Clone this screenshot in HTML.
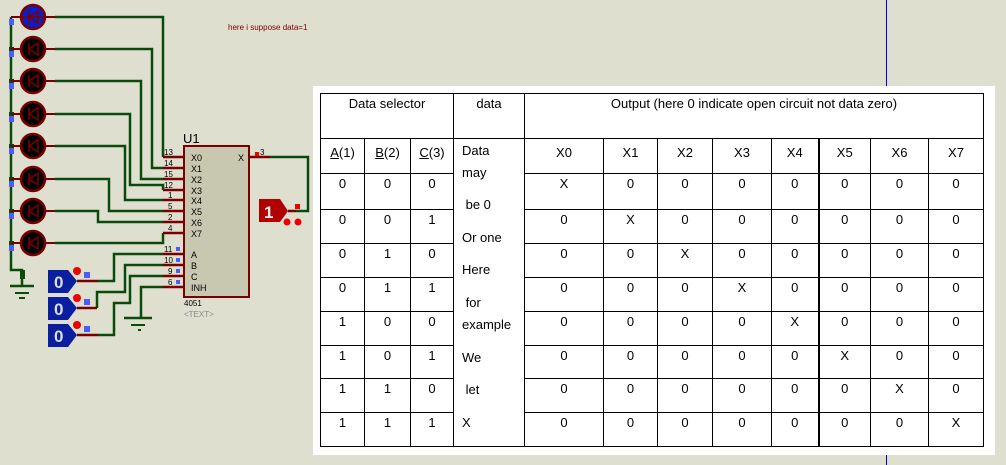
<!DOCTYPE html>
<html><head><meta charset="utf-8"><style>
body{margin:0;width:1006px;height:465px;background:#dfdfd0;overflow:hidden;position:relative;font-family:"Liberation Sans",sans-serif}
svg{position:absolute;left:0;top:0}
#tb{position:absolute;left:313px;top:86px;width:682px;height:369px;background:#fff}
table{position:absolute;left:7px;top:7px;border-collapse:collapse;table-layout:fixed;font-family:"Liberation Sans",sans-serif;font-size:13px;color:#000}
td{border:1px solid #000;padding:3px 0 0 0;text-align:center;vertical-align:top;line-height:14px;overflow:hidden}
.dt{position:absolute;left:462px;font-family:"Liberation Sans",sans-serif;font-size:13px;line-height:14px;color:#000}
</style></head><body>
<svg width="1006" height="465" viewBox="0 0 1006 465">
<line x1="886.5" y1="0" x2="886.5" y2="465" stroke="#0000cc" stroke-width="1"/>
<g fill="none" stroke="#0a4a0a" stroke-width="2.5">
<polyline points="11,17 11,270 22,270 22,286"/>
<polyline points="55,17 163,17 163,157"/>
<polyline points="55,49 152,49 152,168 163,168"/>
<polyline points="55,81 141,81 141,179 163,179"/>
<polyline points="55,114 130,114 130,185 163,185 163,190"/>
<polyline points="55,146 125,146 125,200 163,200"/>
<polyline points="55,179 109,179 109,211 163,211"/>
<polyline points="55,211 98,211 98,222 163,222"/>
<polyline points="55,243 163,243 163,233"/>
<polyline points="98,281 114,281 114,254 163,254"/>
<polyline points="97,308 97,292 125,292 125,265 163,265"/>
<polyline points="98,335 114,335 114,303 130,303 130,276 163,276"/>
<polyline points="163,287 141,287 141,318"/>
<polyline points="270,157 308,157 308,211 296,211"/>
<line x1="10" y1="286" x2="34" y2="286"/><line x1="124" y1="318" x2="152" y2="318"/>
</g>
<g stroke="#0a4a0a" stroke-width="2"><line x1="15" y1="293" x2="29" y2="293"/><line x1="19" y1="298" x2="25" y2="298"/><line x1="131" y1="325" x2="145" y2="325"/><line x1="138" y1="330" x2="141" y2="330"/></g>
<rect x="20" y="270" width="5" height="9" fill="#0a4a0a"/>
<g stroke="#7a0000" stroke-width="2.5">
<line x1="77" y1="281" x2="98" y2="281"/><line x1="77" y1="308" x2="97" y2="308"/><line x1="77" y1="335" x2="98" y2="335"/>
<line x1="163" y1="157" x2="184" y2="157"/><line x1="163" y1="168" x2="184" y2="168"/><line x1="163" y1="179" x2="184" y2="179"/><line x1="163" y1="190" x2="184" y2="190"/><line x1="163" y1="200" x2="184" y2="200"/><line x1="163" y1="211" x2="184" y2="211"/><line x1="163" y1="222" x2="184" y2="222"/><line x1="163" y1="233" x2="184" y2="233"/><line x1="163" y1="254" x2="184" y2="254"/><line x1="163" y1="265" x2="184" y2="265"/><line x1="163" y1="276" x2="184" y2="276"/><line x1="163" y1="287" x2="184" y2="287"/>
<line x1="249" y1="157" x2="270" y2="157"/><line x1="288" y1="211" x2="296" y2="211"/>
</g>
<rect x="184" y="146" width="65" height="151" fill="#c8c8b0" stroke="#7a0000" stroke-width="2"/>
<g font-size="9" fill="#000">
<text x="191" y="161">X0</text><text x="191" y="172">X1</text><text x="191" y="183">X2</text><text x="191" y="194">X3</text><text x="191" y="204">X4</text><text x="191" y="215">X5</text><text x="191" y="226">X6</text><text x="191" y="237">X7</text><text x="191" y="258">A</text><text x="191" y="269">B</text><text x="191" y="280">C</text><text x="191" y="291">INH</text><text x="238" y="161">X</text>
<text x="164" y="155" font-size="8">13</text><text x="164" y="166" font-size="8">14</text><text x="164" y="177" font-size="8">15</text><text x="164" y="188" font-size="8">12</text><text x="168" y="198" font-size="8">1</text><text x="168" y="209" font-size="8">5</text><text x="168" y="220" font-size="8">2</text><text x="168" y="231" font-size="8">4</text><text x="164" y="252" font-size="8">11</text><text x="164" y="263" font-size="8">10</text><text x="168" y="274" font-size="8">9</text><text x="168" y="285" font-size="8">6</text><text x="260" y="155" font-size="8">3</text>
<text x="184" y="306" font-size="8">4051</text><text x="184" y="317" font-size="8" fill="#888">&lt;TEXT&gt;</text>
<text x="183" y="143" font-size="13">U1</text>
</g>
<text x="228" y="30" font-size="8" fill="#7a0000">here i suppose data=1</text>
<g fill="#4a5cff"><rect x="9" y="19" width="5" height="6"/><rect x="9" y="51" width="5" height="6"/><rect x="9" y="83" width="5" height="6"/><rect x="9" y="116" width="5" height="6"/><rect x="9" y="148" width="5" height="6"/><rect x="9" y="181" width="5" height="6"/><rect x="9" y="213" width="5" height="6"/><rect x="9" y="245" width="5" height="6"/>
<rect x="176" y="247" width="4" height="4"/><rect x="176" y="258" width="4" height="4"/><rect x="176" y="269" width="4" height="4"/><rect x="176" y="280" width="4" height="4"/>
<rect x="84" y="272" width="6" height="6"/><rect x="84" y="299" width="6" height="6"/><rect x="84" y="326" width="6" height="6"/></g>
<g fill="#0a4a0a"><rect x="9" y="47" width="5" height="4"/><rect x="9" y="79" width="5" height="4"/><rect x="9" y="112" width="5" height="4"/><rect x="9" y="144" width="5" height="4"/><rect x="9" y="177" width="5" height="4"/><rect x="9" y="209" width="5" height="4"/><rect x="9" y="241" width="5" height="4"/></g>
<rect x="255" y="152" width="4" height="4" fill="#e00"/><rect x="295" y="204" width="5" height="5" fill="#e00"/>
<g stroke="#7a0000" stroke-width="2">
<line x1="11" y1="17" x2="55" y2="17"/><line x1="11" y1="49" x2="55" y2="49"/><line x1="11" y1="81" x2="55" y2="81"/><line x1="11" y1="114" x2="55" y2="114"/><line x1="11" y1="146" x2="55" y2="146"/><line x1="11" y1="179" x2="55" y2="179"/><line x1="11" y1="211" x2="55" y2="211"/><line x1="11" y1="243" x2="55" y2="243"/>
</g>
<g stroke="#7a0000" stroke-width="2.5">
<circle cx="33" cy="17" r="12" fill="#0a1ec8"/>
<circle cx="33" cy="49" r="12" fill="#000"/><circle cx="33" cy="81" r="12" fill="#000"/><circle cx="33" cy="114" r="12" fill="#000"/><circle cx="33" cy="146" r="12" fill="#000"/><circle cx="33" cy="179" r="12" fill="#000"/><circle cx="33" cy="211" r="12" fill="#000"/><circle cx="33" cy="243" r="12" fill="#000"/>
</g>
<g fill="none" stroke="#7a0000" stroke-width="1.5">
<path d="M38,11 L29,17 L38,23 Z M29,11 V23 M22,17 H44"/>
<path d="M38,11 L29,17 L38,23 Z M29,11 V23" transform="translate(0,32)"/>
<path d="M38,11 L29,17 L38,23 Z M29,11 V23" transform="translate(0,64)"/>
<path d="M38,11 L29,17 L38,23 Z M29,11 V23" transform="translate(0,97)"/>
<path d="M38,11 L29,17 L38,23 Z M29,11 V23" transform="translate(0,129)"/>
<path d="M38,11 L29,17 L38,23 Z M29,11 V23" transform="translate(0,162)"/>
<path d="M38,11 L29,17 L38,23 Z M29,11 V23" transform="translate(0,194)"/>
<path d="M38,11 L29,17 L38,23 Z M29,11 V23" transform="translate(0,226)"/>
</g>
<g fill="#0a1ea0">
<polygon points="48,270 68,270 77,281 68,293 48,293"/><polygon points="48,297 68,297 77,308 68,320 48,320"/><polygon points="48,324 68,324 77,335 68,347 48,347"/>
</g>
<g fill="#ddd" font-size="17" font-weight="bold"><text x="54" y="288">0</text><text x="54" y="315">0</text><text x="54" y="342">0</text></g>
<g fill="#e00"><circle cx="77" cy="271" r="4"/><circle cx="77" cy="298" r="4"/><circle cx="77" cy="325" r="4"/><circle cx="287" cy="222" r="3.5"/><circle cx="298" cy="222" r="3.5"/></g>
<polygon points="259,199 280,199 288,211 280,222 259,222" fill="#b00000"/>
<text x="264" y="218" font-size="17" font-weight="bold" fill="#eee">1</text>
</svg>
<div id="tb">
<table>
<colgroup><col style="width:44px"><col style="width:46px"><col style="width:43px"><col style="width:71px"><col style="width:79px"><col style="width:54px"><col style="width:55px"><col style="width:59px"><col style="width:47px"><col style="width:52px"><col style="width:58px"><col style="width:55px"></colgroup>
<tr style="height:45px"><td colspan="3">Data selector</td><td>data</td><td colspan="8">Output (here 0 indicate open circuit not data zero)</td></tr>
<tr style="height:35px"><td style="padding-top:7px"><u>A</u>(1)</td><td style="padding-top:7px"><u>B</u>(2)</td><td style="padding-top:7px"><u>C</u>(3)</td>
<td rowspan="9"></td>
<td style="padding-top:7px">X0</td><td style="padding-top:7px">X1</td><td style="padding-top:7px">X2</td><td style="padding-top:7px">X3</td><td style="padding-top:7px">X4</td><td style="padding-top:7px;border-left:2px solid #000">X5</td><td style="padding-top:7px">X6</td><td style="padding-top:7px">X7</td></tr>
<tr style="height:36px"><td>0</td><td>0</td><td>0</td><td>X</td><td>0</td><td>0</td><td>0</td><td>0</td><td style="border-left:2px solid #000">0</td><td>0</td><td>0</td></tr>
<tr style="height:34px"><td>0</td><td>0</td><td>1</td><td>0</td><td>X</td><td>0</td><td>0</td><td>0</td><td style="border-left:2px solid #000">0</td><td>0</td><td>0</td></tr>
<tr style="height:34px"><td>0</td><td>1</td><td>0</td><td>0</td><td>0</td><td>X</td><td>0</td><td>0</td><td style="border-left:2px solid #000">0</td><td>0</td><td>0</td></tr>
<tr style="height:34px"><td>0</td><td>1</td><td>1</td><td>0</td><td>0</td><td>0</td><td>X</td><td>0</td><td style="border-left:2px solid #000">0</td><td>0</td><td>0</td></tr>
<tr style="height:34px"><td>1</td><td>0</td><td>0</td><td>0</td><td>0</td><td>0</td><td>0</td><td>X</td><td style="border-left:2px solid #000">0</td><td>0</td><td>0</td></tr>
<tr style="height:33px"><td>1</td><td>0</td><td>1</td><td>0</td><td>0</td><td>0</td><td>0</td><td>0</td><td style="border-left:2px solid #000">X</td><td>0</td><td>0</td></tr>
<tr style="height:34px"><td>1</td><td>1</td><td>0</td><td>0</td><td>0</td><td>0</td><td>0</td><td>0</td><td style="border-left:2px solid #000">0</td><td>X</td><td>0</td></tr>
<tr style="height:34px"><td>1</td><td>1</td><td>1</td><td>0</td><td>0</td><td>0</td><td>0</td><td>0</td><td style="border-left:2px solid #000">0</td><td>0</td><td>X</td></tr>
</table>
</div>
<div class="dt" style="top:144px">Data</div>
<div class="dt" style="top:166px">may</div>
<div class="dt" style="top:198px">&nbsp;be 0</div>
<div class="dt" style="top:231px">Or one</div>
<div class="dt" style="top:263px">Here</div>
<div class="dt" style="top:296px">&nbsp;for</div>
<div class="dt" style="top:318px">example</div>
<div class="dt" style="top:351px">We</div>
<div class="dt" style="top:383px">&nbsp;let</div>
<div class="dt" style="top:416px">X</div>
</body></html>
